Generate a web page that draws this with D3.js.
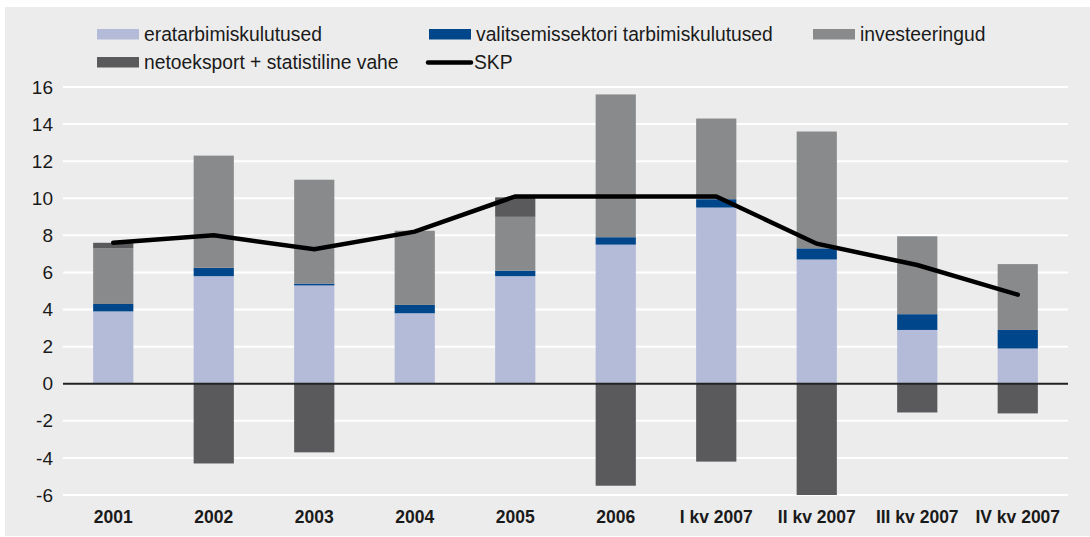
<!DOCTYPE html>
<html>
<head>
<meta charset="utf-8">
<script src="https://cdn.jsdelivr.net/npm/d3@7"></script>
<style>
  body { margin: 0; background: #fff; }
  svg { display: block; font-family: "Liberation Sans", Arial, sans-serif; }
</style>
</head>
<body>
<div id="chart"></div>
<script>
// Data
const categories = ["2001", "2002", "2003", "2004", "2005", "2006",
  "I kv 2007", "II kv 2007", "III kv 2007", "IV kv 2007"];
const eratarbimine = [3.9, 5.8, 5.3, 3.8, 5.8, 7.5, 9.5, 6.7, 2.9, 1.9];
const valitsus = [0.4, 0.45, 0.1, 0.45, 0.3, 0.4, 0.45, 0.6, 0.85, 1.0];
const investeeringud = [3.0, 6.05, 5.6, 4.0, 2.9, 7.7, 4.35, 6.3, 4.2, 3.55];
const netoeksport = [0.3, -4.3, -3.7, 0, 1.05, -5.5, -4.2, -6.0, -1.55, -1.6];
const skp = [7.6, 8.0, 7.25, 8.2, 10.1, 10.1, 10.1, 7.55, 6.4, 4.8];
const yTicks = [-6, -4, -2, 0, 2, 4, 6, 8, 10, 12, 14, 16];

const series = [
  { name: "eratarbimiskulutused", values: eratarbimine, color: "#b3bbd8" },
  { name: "valitsemissektori tarbimiskulutused", values: valitsus, color: "#00468b" },
  { name: "investeeringud", values: investeeringud, color: "#898a8c" },
  { name: "netoeksport + statistiline vahe", values: netoeksport, color: "#5a5a5c" }
];

const width = 1090, height = 537;
const svg = d3.select("#chart").append("svg")
  .attr("width", width)
  .attr("height", height);

// grey panel
svg.append("rect")
  .attr("x", 5).attr("y", 7)
  .attr("width", width - 5).attr("height", height - 8)
  .attr("fill", "#ececec");

const x = d3.scaleBand()
  .domain(categories)
  .range([63, 1068])
  .paddingInner(0.6)
  .paddingOuter(0.3);

const y = d3.scaleLinear()
  .domain([-6, 16])
  .range([495, 87]);

// gridlines
svg.append("g")
  .selectAll("line")
  .data(yTicks.filter(d => d !== 0))
  .join("line")
  .attr("x1", 63).attr("x2", 1068)
  .attr("y1", d => y(d)).attr("y2", d => y(d))
  .attr("stroke", "#fff")
  .attr("stroke-width", 2);

// y axis labels (plain hyphen for negatives, as in the original)
const yAxis = svg.append("g")
  .attr("transform", "translate(63,0)")
  .call(d3.axisLeft(y).tickValues(yTicks).tickSize(0).tickPadding(10)
    .tickFormat(d => String(d)));
yAxis.select(".domain").remove();
yAxis.selectAll("text")
  .attr("font-size", 19)
  .attr("font-family", "Liberation Sans, Arial, sans-serif")
  .attr("fill", "#1a1a1a");

// stacked bars (positive up, negative down)
const rows = categories.map((c, i) => {
  let pos = 0, neg = 0;
  return series.map(s => {
    const v = s.values[i];
    let y0, y1;
    if (v >= 0) { y0 = pos; y1 = pos + v; pos = y1; }
    else { y0 = neg; y1 = neg + v; neg = y1; }
    return { cat: c, y0, y1, color: s.color };
  });
}).flat();

svg.append("g")
  .selectAll("rect")
  .data(rows)
  .join("rect")
  .attr("x", d => x(d.cat))
  .attr("width", x.bandwidth())
  .attr("y", d => y(Math.max(d.y0, d.y1)))
  .attr("height", d => Math.abs(y(d.y0) - y(d.y1)))
  .attr("fill", d => d.color);

// zero line
svg.append("line")
  .attr("x1", 63).attr("x2", 1068)
  .attr("y1", y(0)).attr("y2", y(0))
  .attr("stroke", "#222")
  .attr("stroke-width", 2);

// SKP line
const line = d3.line()
  .x((d, i) => x(categories[i]) + x.bandwidth() / 2)
  .y(d => y(d));

svg.append("path")
  .datum(skp)
  .attr("d", line)
  .attr("fill", "none")
  .attr("stroke", "#000")
  .attr("stroke-width", 4.5)
  .attr("stroke-linecap", "round");

// x labels
svg.append("g")
  .selectAll("text")
  .data(categories)
  .join("text")
  .attr("x", d => x(d) + x.bandwidth() / 2)
  .attr("y", 523)
  .attr("text-anchor", "middle")
  .attr("font-size", 17.5)
  .attr("font-weight", "bold")
  .attr("fill", "#1a1a1a")
  .text(d => d);

// legend
const legendPos = [[97, 29], [429, 29], [813, 29], [97, 57]];
series.forEach((s, i) => {
  const [lx, ly] = legendPos[i];
  svg.append("rect")
    .attr("x", lx).attr("y", ly)
    .attr("width", 42).attr("height", 10.5)
    .attr("fill", s.color);
  svg.append("text")
    .attr("x", lx + 47).attr("y", ly + 11.5)
    .attr("font-size", 19.3)
    .attr("fill", "#1a1a1a")
    .text(s.name);
});
svg.append("line")
  .attr("x1", 428).attr("x2", 471)
  .attr("y1", 62.5).attr("y2", 62.5)
  .attr("stroke", "#000")
  .attr("stroke-width", 4.5)
  .attr("stroke-linecap", "round");
svg.append("text")
  .attr("x", 474).attr("y", 69)
  .attr("font-size", 19.3)
  .attr("fill", "#1a1a1a")
  .text("SKP");
</script>
</body>
</html>
